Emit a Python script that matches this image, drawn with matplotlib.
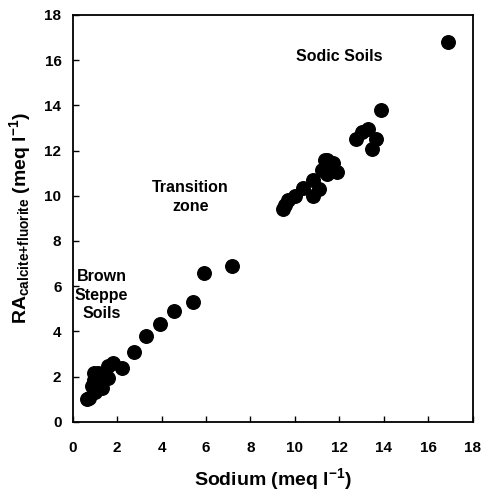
import matplotlib
matplotlib.use("Agg")
import matplotlib.pyplot as plt

plt.rcParams['font.family'] = ['Liberation Sans', 'DejaVu Sans']
plt.rcParams['font.weight'] = 'bold'
plt.rcParams['mathtext.fontset'] = 'custom'
plt.rcParams['mathtext.rm'] = 'Liberation Sans:bold'
plt.rcParams['mathtext.it'] = 'Liberation Sans:bold'
plt.rcParams['mathtext.bf'] = 'Liberation Sans:bold'
plt.rcParams['mathtext.default'] = 'rm'

sodium = [16.9, 13.85, 12.75, 13.0, 13.3, 13.65, 13.45,
          11.45, 11.7, 11.9, 11.45, 11.2, 11.35,
          10.8, 11.1, 10.8, 10.35, 10.0, 9.7, 9.55, 9.45,
          7.15, 5.9, 5.4, 4.55, 3.95, 3.3, 2.75,
          1.8, 2.2, 1.6, 0.95, 1.6, 1.3, 1.1, 0.85, 1.3, 1.0, 0.75, 0.95, 1.15, 0.65]
ra = [16.8, 13.8, 12.5, 12.8, 12.95, 12.5, 12.05,
      11.6, 11.45, 11.05, 10.95, 11.15, 11.6,
      10.7, 10.3, 10.0, 10.35, 10.0, 9.8, 9.6, 9.4,
      6.9, 6.6, 5.3, 4.9, 4.35, 3.8, 3.1,
      2.6, 2.4, 2.45, 2.15, 1.95, 2.1, 1.7, 1.6, 1.5, 1.3, 1.05, 1.85, 2.15, 1.0]

labels = ["Sodic Soils", "Transition\nzone", "Brown\nSteppe\nSoils"]
label_x = [12.0, 5.3, 1.3]
label_y = [16.15, 9.95, 5.6]

fig = plt.figure(figsize=(4.84, 4.94), dpi=100)
ax = fig.add_axes([0.15, 0.146, 0.827, 0.824])
ax.scatter(sodium, ra, s=95, color='black', zorder=3)

for t, x, y in zip(labels, label_x, label_y):
    ax.text(x, y, t, ha='center', va='center', fontsize=11.5, fontweight='bold', linespacing=1.3)

ax.set_xlim(0, 18)
ax.set_ylim(0, 18)
ax.set_xticks(range(0, 19, 2))
ax.set_yticks(range(0, 19, 2))
ax.tick_params(direction='in', length=4, width=1, labelsize=11)
ax.tick_params(axis='x', pad=14)
ax.tick_params(axis='y', pad=8)
for lab in ax.get_xticklabels() + ax.get_yticklabels():
    lab.set_fontweight('bold')
for sp in ax.spines.values():
    sp.set_linewidth(1.3)

ax.set_xlabel(r'Sodium (meq l$^{-1}$)', fontsize=14, fontweight='bold', labelpad=8)
ax.set_ylabel(r'RA$_{calcite{+}fluorite}$ (meq l$^{-1}$)', fontsize=14, fontweight='bold', labelpad=8)

fig.savefig('out.png', dpi=100)
